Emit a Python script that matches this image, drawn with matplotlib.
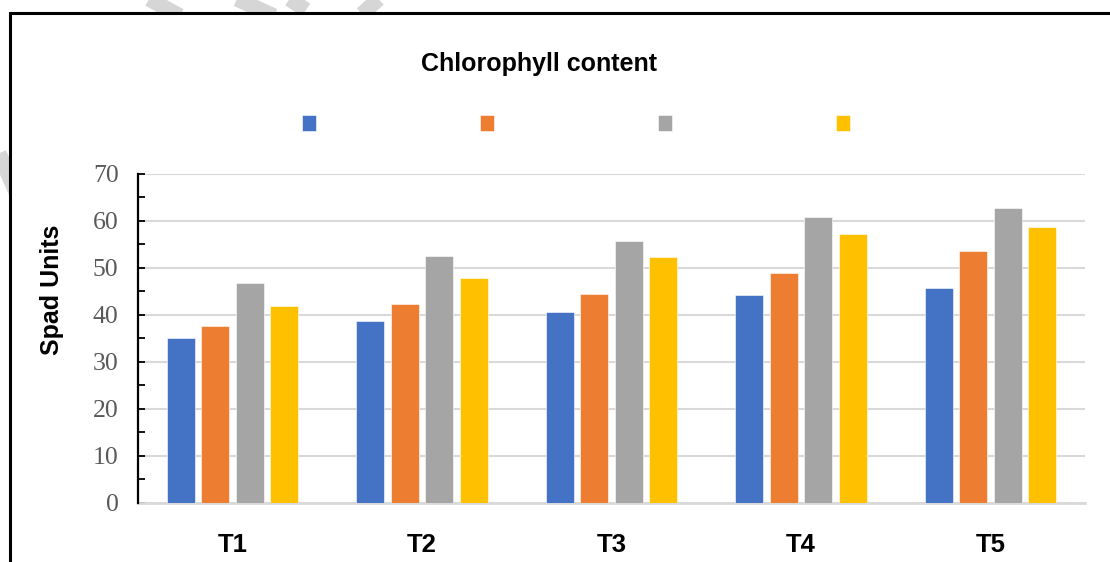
import numpy as np
import matplotlib.pyplot as plt
from matplotlib.lines import Line2D
from matplotlib.patches import Rectangle

treatments = ['T1', 'T2', 'T3', 'T4', 'T5']
series1 = [35.1, 38.7, 40.6, 44.2, 45.7]
series2 = [37.6, 42.3, 44.5, 49.0, 53.6]
series3 = [46.8, 52.6, 55.8, 60.9, 62.7]
series4 = [41.9, 47.9, 52.4, 57.3, 58.8]
colors = ['#4472C4', '#ED7D31', '#A5A5A5', '#FFC000']

W, H = 1110, 562
fig = plt.figure(figsize=(W / 100, H / 100), dpi=100)
fig.patch.set_facecolor('white')

def fx(px):
    return px / W

def fy(py):
    return 1 - py / H

# faint watermark stripes outside the box
for (x0, y0, x1, y1) in [(140, -6, 180, 16), (226, -6, 274, 16), (282, -6, 306, 10),
                         (362, 14, 384, -6), (-6, 142, 16, 192)]:
    fig.add_artist(Line2D([fx(x0), fx(x1)], [fy(y0), fy(y1)], transform=fig.transFigure,
                          color='#d6d6d6', lw=11, solid_capstyle='butt', zorder=-3))

# chart border (top and left visible)
fig.add_artist(Rectangle((fx(10), -0.2), 1.3, fy(13) + 0.2, transform=fig.transFigure,
                         facecolor='white', edgecolor='black', lw=2.2, zorder=-2))

ax = fig.add_axes([fx(138), fy(502.6), fx(1085) - fx(138), fy(174) - fy(502.6)])
ax.set_facecolor('none')

x = np.arange(len(treatments))
step = 0.182
width = 0.148
bars = []
for i, vals in enumerate([series1, series2, series3, series4]):
    b = ax.bar(x + (i - 1.5) * step, vals, width, color=colors[i],
               edgecolor='white', linewidth=0.4, zorder=3)
    bars.append(b)

ax.set_xlim(-0.5, 4.5)
ax.set_ylim(0, 70)
ax.set_yticks(np.arange(0, 71, 10))
ax.set_yticks(np.arange(5, 70, 10), minor=True)
ax.set_xticks(x)
ax.set_xticklabels(treatments, fontfamily='Liberation Sans', fontweight='bold', fontsize=18.5)
for lab in ax.get_yticklabels():
    lab.set_fontfamily('Liberation Serif')
ax.tick_params(axis='y', which='both', direction='in', length=5, width=1.3,
               labelsize=18.5, labelcolor='#595959', pad=14)
ax.tick_params(axis='x', length=0, pad=22)

ax.grid(axis='y', color='#d9d9d9', lw=1.5, zorder=0)
ax.set_axisbelow(True)
for s in ['top', 'right']:
    ax.spines[s].set_visible(False)
ax.spines['left'].set_color('black')
ax.spines['left'].set_linewidth(1.6)
ax.spines['left'].set_zorder(4)
ax.spines['bottom'].set_color('#d9d9d9')
ax.spines['bottom'].set_linewidth(2)

fig.text(fx(539), fy(64), 'Chlorophyll content', ha='center', va='center',
         fontfamily='Liberation Sans', fontweight='bold', fontsize=18)
fig.text(fx(52), fy(290), 'Spad Units', ha='center', va='center', rotation=90,
         fontfamily='Liberation Sans', fontweight='bold', fontsize=18)

fig.legend(bars, ['', '', '', ''], loc='center', bbox_to_anchor=(fx(576), fy(125)),
           ncol=4, frameon=False, fontsize=18.5, handlelength=0.55, handleheight=0.55,
           handletextpad=0, columnspacing=6.38, borderpad=0)

plt.savefig('out.png', dpi=100)
